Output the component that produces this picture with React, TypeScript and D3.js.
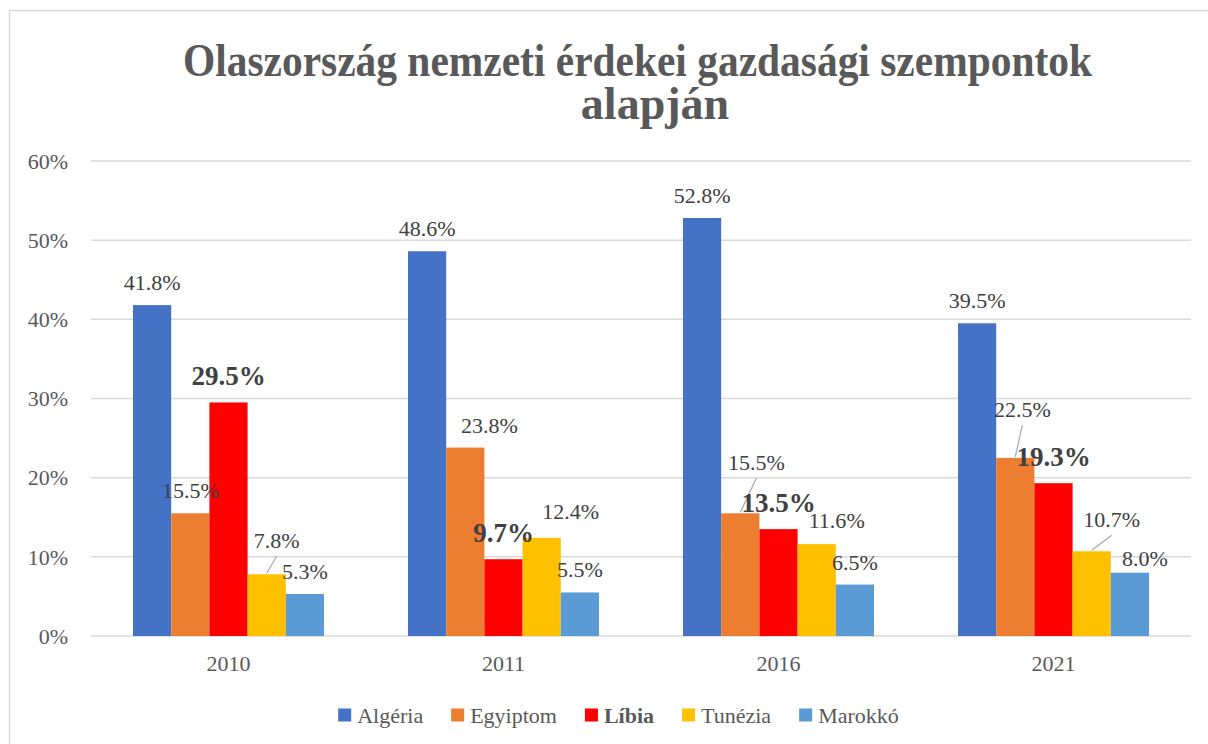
import React from "react";
import * as d3 from "d3";

const years = ["2010", "2011", "2016", "2021"];
const seriesNames = ["Algéria", "Egyiptom", "Líbia", "Tunézia", "Marokkó"];
const algeria = [41.8, 48.6, 52.8, 39.5];
const egypt = [15.5, 23.8, 15.5, 22.5];
const libya = [29.5, 9.7, 13.5, 19.3];
const tunisia = [7.8, 12.4, 11.6, 10.7];
const morocco = [5.3, 5.5, 6.5, 8.0];
const yTicks = [0, 10, 20, 30, 40, 50, 60];

const seriesValues = [algeria, egypt, libya, tunisia, morocco];
const colors = ["#4472c4", "#ed7d31", "#ff0000", "#ffc000", "#5b9bd5"];
const boldSeries = [false, false, true, false, false];

// label nudges [dx, dy, leader] per series per year (pixel offsets for the label placement)
const nudges: [number, number, boolean][][] = [
  [[0, 0, false], [0, 0, false], [0, 0, false], [0, 0, false]],
  [[0, 0, false], [24, 0, false], [16, -28, true], [7, -26, true]],
  [[0, 0, false], [0, 0, false], [0, 0, false], [0, 0, false]],
  [[10, -11, true], [29, -4, false], [20, -1, false], [20, -9, true]],
  [[0, 0, false], [0, 0, false], [0, 0, false], [15, 8, false]],
];

const W = 1208;
const H = 744;
const serif = '"Liberation Serif", "Times New Roman", Times, serif';

function measure(text: string, font: string): number {
  const c = document.createElement("canvas").getContext("2d");
  if (!c) return text.length * 10;
  c.font = font;
  return c.measureText(text).width;
}

export default function App() {
  const x0 = d3.scaleBand<string>().domain(years).range([91, 1191]).paddingInner(0.3055).paddingOuter(0.15275);
  const x1 = d3.scaleBand<string>().domain(seriesNames).range([0, x0.bandwidth()]).padding(0);
  const y = d3.scaleLinear().domain([0, 60]).range([636, 161]);

  const txt = (size: number, bold = false): React.CSSProperties => ({
    fontFamily: serif,
    fontSize: `${size}px`,
    fontWeight: bold ? 700 : 400,
  });

  // legend layout
  const sq = 13;
  const gapSqText = 6;
  const gapItems = 28;
  const widths = seriesNames.map((n, i) =>
    measure(n, `${boldSeries[i] ? "bold " : ""}22px "Liberation Serif"`)
  );
  const totalW = widths.reduce((a, w) => a + sq + gapSqText + w, 0) + gapItems * (seriesNames.length - 1);
  let lx = 618.5 - totalW / 2;
  const legendItems = seriesNames.map((n, i) => {
    const item = { name: n, x: lx, w: widths[i], i };
    lx += sq + gapSqText + widths[i] + gapItems;
    return item;
  });

  return (
    <svg
      width={W}
      height={H}
      style={{ position: "absolute", left: 0, top: 0, background: "#fff", fontFamily: serif }}
    >
      <rect x={0} y={0} width={W} height={H} fill="#fff" />
      <rect x={9.5} y={10.5} width={W + 20} height={H + 20} fill="none" stroke="#d9d9d9" strokeWidth={1.5} />

      {/* title */}
      <text x={637.5} y={76} textAnchor="middle" style={txt(46, true)} fill="#595959" textLength={909} lengthAdjust="spacingAndGlyphs">
        Olaszország nemzeti érdekei gazdasági szempontok
      </text>
      <text x={655} y={119} textAnchor="middle" style={txt(46, true)} fill="#595959">
        alapján
      </text>

      {/* gridlines */}
      {yTicks.map((t) => (
        <line key={t} x1={91} x2={1191} y1={y(t)} y2={y(t)} stroke="#d9d9d9" strokeWidth={1.5} />
      ))}
      {yTicks.map((t) => (
        <text key={"l" + t} x={68} y={y(t)} dy="0.35em" textAnchor="end" style={txt(22)} fill="#595959">
          {t}%
        </text>
      ))}

      {/* bars */}
      {years.map((yr, yi) => (
        <g key={yr} transform={`translate(${x0(yr)},0)`}>
          {seriesNames.map((s, si) => {
            const v = seriesValues[si][yi];
            return (
              <rect
                key={s}
                x={x1(s)}
                y={y(v)}
                width={x1.bandwidth()}
                height={y(0) - y(v)}
                fill={colors[si]}
              />
            );
          })}
        </g>
      ))}

      {/* data labels */}
      {years.map((yr, yi) =>
        seriesNames.map((s, si) => {
          const v = seriesValues[si][yi];
          const cx = (x0(yr) as number) + (x1(s) as number) + x1.bandwidth() / 2;
          const top = y(v);
          const bold = boldSeries[si];
          const [dx, dy, leader] = nudges[si][yi];
          const lx2 = cx + dx;
          const ly = top - (bold ? 17 : 15) + dy;
          return (
            <g key={yr + s}>
              {leader && (
                <line x1={cx} y1={top - 1} x2={lx2} y2={ly + 8} stroke="#a6a6a6" strokeWidth={1.2} />
              )}
              <text x={lx2} y={ly} textAnchor="middle" style={txt(bold ? 27 : 22, bold)} fill="#404040">
                {v.toFixed(1)}%
              </text>
            </g>
          );
        })
      )}

      {/* x axis labels */}
      {years.map((yr) => (
        <text key={"x" + yr} x={(x0(yr) as number) + x0.bandwidth() / 2} y={671} textAnchor="middle" style={txt(22)} fill="#595959">
          {yr}
        </text>
      ))}

      {/* legend */}
      {legendItems.map((it) => (
        <g key={it.name}>
          <rect x={it.x} y={708.5} width={sq} height={sq} fill={colors[it.i]} />
          <text x={it.x + sq + gapSqText} y={722.5} style={txt(22, boldSeries[it.i])} fill="#595959">
            {it.name}
          </text>
        </g>
      ))}
    </svg>
  );
}
